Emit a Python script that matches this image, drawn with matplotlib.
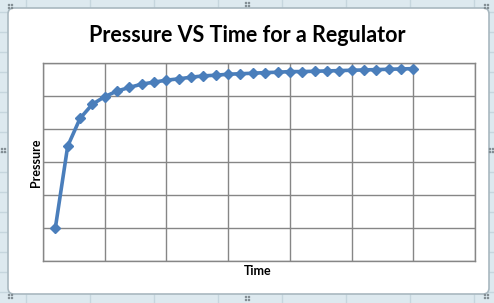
import matplotlib.pyplot as plt
from matplotlib.patches import FancyBboxPatch, Rectangle

# data (y in grid units, no labels shown)
time = list(range(1, 31))
pressure = [1.00, 3.48, 4.32, 4.75, 4.98, 5.15, 5.26, 5.36, 5.42, 5.48,
            5.52, 5.57, 5.61, 5.63, 5.66, 5.675, 5.69, 5.71, 5.72, 5.74,
            5.74, 5.75, 5.76, 5.77, 5.78, 5.79, 5.80, 5.81, 5.82, 5.83]

W, H = 494, 303
fig = plt.figure(figsize=(W / 100, H / 100), dpi=100)
fig.patch.set_facecolor('#dde9ef')

# spreadsheet cells behind the chart
bg = fig.add_axes([0, 0, 1, 1])
bg.set_xlim(0, W)
bg.set_ylim(H, 0)
bg.axis('off')
for x in range(26, W, 64):
    bg.axvline(x, color='#c6d6de', lw=1, zorder=1)
for y in range(12, H, 20):
    bg.axhline(y, color='#c6d6de', lw=1, zorder=1)

# chart frame
frame = FancyBboxPatch((8, 8), 481, 286, boxstyle='round,pad=0,rounding_size=6',
                       facecolor='white', edgecolor='#a9b8c0', lw=1.2, zorder=3)
bg.add_patch(frame)
# resize handles
for (hx, hy) in [(10, 6), (247, 4), (247, 298), (10, 296), (486, 6), (486, 296), (3, 150), (491, 150)]:
    for dx in (-1.5, 1.5):
        for dy in (-1.5, 1.5):
            bg.add_patch(Rectangle((hx + dx - 0.6, hy + dy - 0.6), 1.2, 1.2,
                                   color='#7f8a90', zorder=4))

ax = fig.add_axes([43 / W, 1 - 261 / H, (475 - 43) / W, (261 - 63) / H])
ax.plot(time, pressure, color='#4a7ebb', lw=2.6, marker='D', markersize=5.5,
        markerfacecolor='#4a7ebb', markeredgecolor='#4a7ebb')
ax.set_xlim(0, 35)
ax.set_ylim(0, 6)
ax.set_xticks(range(0, 36, 5))
ax.set_yticks(range(0, 7))
ax.tick_params(length=0, labelbottom=False, labelleft=False)
ax.grid(True, color='#868686', lw=1)
for s in ax.spines.values():
    s.set_color('#868686')
    s.set_linewidth(1)

fig.text(0.5, 1 - 35 / H, 'Pressure VS Time for a Regulator', ha='center', va='center',
         fontsize=15.5, fontweight='bold', family='Lato')
fig.text(36 / W, 1 - 163 / H, 'Pressure', ha='center', va='center', rotation=90,
         fontsize=9, fontweight='bold', family='Lato')
fig.text(258 / W, 1 - 271 / H, 'Time', ha='center', va='center',
         fontsize=9, fontweight='bold', family='Lato')

fig.savefig('out.png', dpi=100)
